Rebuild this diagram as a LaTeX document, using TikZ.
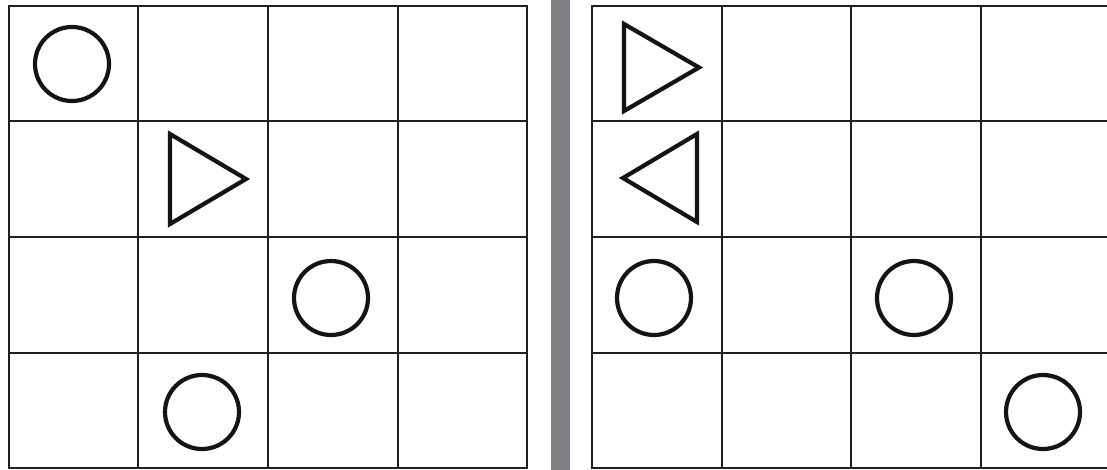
\documentclass[tikz,border=0pt]{standalone}
\begin{document}
\begin{tikzpicture}[x=1pt,y=-1pt,
  gridline/.style={line width=2pt,draw=black!88},
  figline/.style={line width=4.2pt,draw=black!92,line join=miter},
  bar/.style={fill=black!50!blue!3!gray,draw=none}]
\useasboundingbox (0,0) rectangle (1107,470);
\clip (0,0) rectangle (1107,470);
% left grid
\foreach \x in {9,138,268,398,527} \draw[gridline] (\x,5.5) -- (\x,468.5);
\foreach \y in {6,121,237,353,468} \draw[gridline] (8,\y) -- (528,\y);
% grey bar
\fill[bar,fill={rgb,255:red,128;green,128;blue,133}] (551,0) rectangle (570,470);
% right grid
\foreach \x in {592,722,851,981,1110} \draw[gridline] (\x,5.5) -- (\x,468.5);
\foreach \y in {6,121,237,353,468} \draw[gridline] (591,\y) -- (1115,\y);
% left shapes
\draw[figline] (72,64) circle (37);
\draw[figline] (170,134) -- (170,224) -- (246,179) -- cycle;
\draw[figline] (331,298) circle (37);
\draw[figline] (202,412) circle (37);
% right shapes
\draw[figline] (624,24) -- (624,111) -- (699,67.5) -- cycle;
\draw[figline] (697,134) -- (697,222) -- (623,178) -- cycle;
\draw[figline] (654,298) circle (37);
\draw[figline] (914,298) circle (37);
\draw[figline] (1043,412) circle (37);
\end{tikzpicture}
\end{document}
